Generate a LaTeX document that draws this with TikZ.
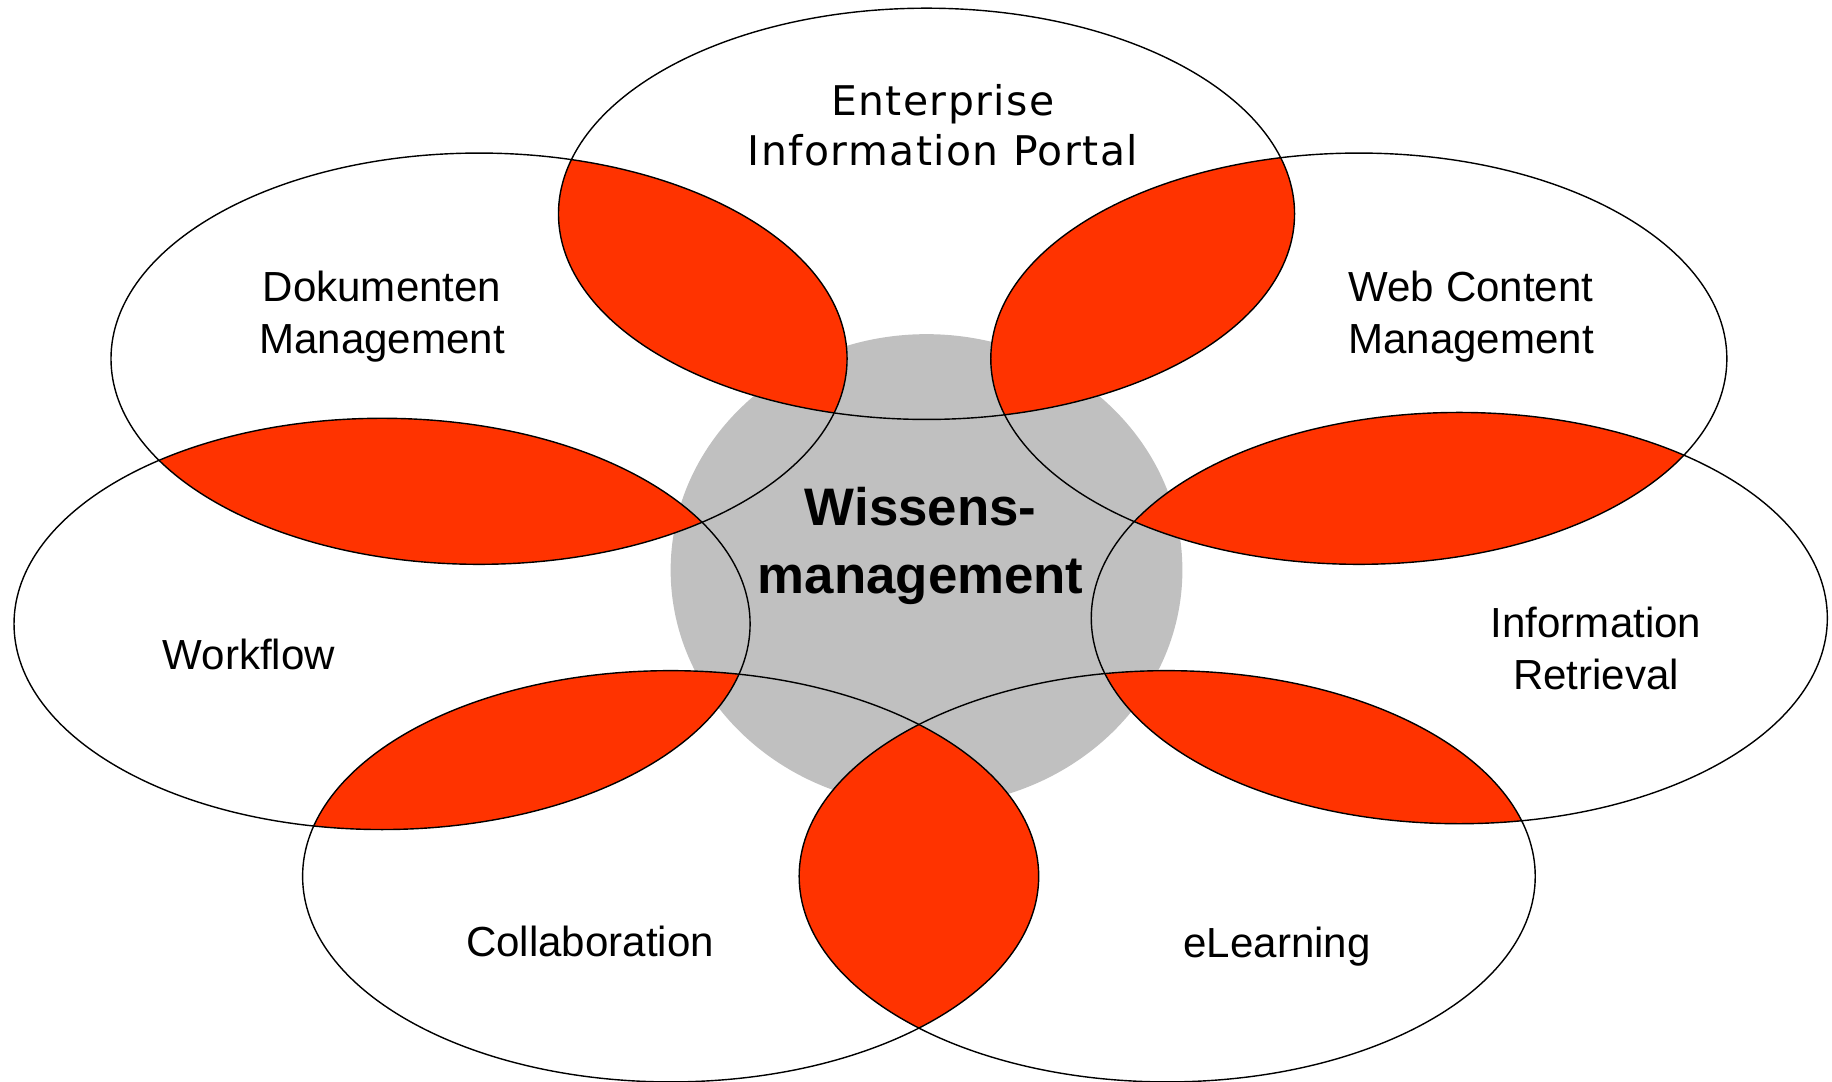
\documentclass[tikz,border=0pt]{standalone}
\usepackage{fontspec}
\setmainfont{Liberation Sans}
\newfontfamily\eipfont[LetterSpace=3.5]{DejaVu Sans}
\definecolor{lensred}{HTML}{FF3300}
\definecolor{coregray}{HTML}{C0C0C0}
\tikzset{
  ring/.style={draw=black, line width=0.6pt},
  lens/.style={fill=lensred},
  lbl/.style={align=center, font=\fontsize{18}{22.5}\selectfont},
  eiplbl/.style={align=center, font=\eipfont\fontsize{17.5}{21.5}\selectfont},
  corelbl/.style={align=center, font=\bfseries\fontsize{22.6}{29}\selectfont},
  ell/.style={x radius=315, y radius=176}
}
\begin{document}
\begin{tikzpicture}[x=0.5pt,y=-0.5pt]
\useasboundingbox (0,0) rectangle (1568,926);
% centres
\coordinate (eip) at (793,183);
\coordinate (dok) at (410,307);
\coordinate (web) at (1163,307);
\coordinate (wf)  at (327,534);
\coordinate (ir)  at (1249,529);
\coordinate (col) at (574,750);
\coordinate (el)  at (999,750);
\coordinate (core) at (793,488);
% core
\fill[coregray] (core) ellipse [x radius=219, y radius=202];
% lenses
\foreach \a/\b in {eip/dok, eip/web, dok/wf, web/ir, wf/col, ir/el, col/el}{
  \begin{scope}
    \clip (\a) ellipse [ell];
    \fill[lens] (\b) ellipse [ell];
  \end{scope}
}
% rings
\foreach \c in {eip,dok,web,wf,ir,col,el}{
  \draw[ring] (\c) ellipse [ell];
}
% labels
\node[eiplbl] (teip) at (807,107) {Enterprise\\Information Portal};
\node[lbl] (tdok) at (327,271) {Dokumenten\\Management};
\node[lbl] (tweb) at (1259,271) {Web Content\\Management};
\node[lbl] (twf) at (213,560) {Workflow};
\node[lbl] (tir) at (1366,555) {Information\\Retrieval};
\node[lbl] (tcol) at (505,806) {Collaboration};
\node[lbl] (tel) at (1093,810) {eLearning};
\node[corelbl] (tcore) at (788,467) {Wissens-\\management};
\end{tikzpicture}
\end{document}
